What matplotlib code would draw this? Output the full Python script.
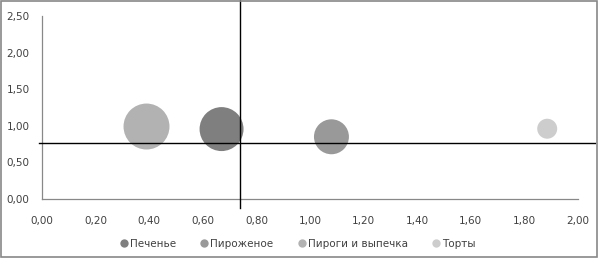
import matplotlib.pyplot as plt
from matplotlib.patches import Rectangle
from matplotlib.lines import Line2D

# данные пузырьковой диаграммы
categorias = ['Печенье', 'Пироженое', 'Пироги и выпечка', 'Торты']
x_vals = [0.67, 1.08, 0.39, 1.885]
y_vals = [0.955, 0.85, 0.99, 0.96]
tamanhos = [4.84, 3.06, 5.29, 1.00]   # размер пузыря (площадь)
cores = ['#7f7f7f', '#999999', '#b2b2b2', '#cdcdcd']

# линии-перекрестие (вручную)
linha_x = 0.74
linha_y = 0.765

x_ticks = [0.0, 0.2, 0.4, 0.6, 0.8, 1.0, 1.2, 1.4, 1.6, 1.8, 2.0]
y_ticks = [0.0, 0.5, 1.0, 1.5, 2.0, 2.5]


def fmt(v):
    return f'{v:.2f}'.replace('.', ',')


fig = plt.figure(figsize=(5.98, 2.58), dpi=100)
ax = fig.add_axes([0.0702, 0.2287, 0.8964, 0.7093])

escala = 207  # pontos^2 por unidade de tamanho
for cat, x, y, t, c in zip(categorias, x_vals, y_vals, tamanhos, cores):
    ax.scatter(x, y, s=t * escala, color=c, edgecolors='none', zorder=3)

ax.set_xlim(0, 2.0)
ax.set_ylim(0, 2.5)
ax.set_xticks(x_ticks)
ax.set_yticks(y_ticks)
ax.set_xticklabels([fmt(v) for v in x_ticks])
ax.set_yticklabels([fmt(v) for v in y_ticks])
ax.tick_params(length=0, labelsize=7.5, colors='#404040')
ax.tick_params(axis='x', pad=12)
ax.tick_params(axis='y', pad=9)

for lado in ['top', 'right']:
    ax.spines[lado].set_visible(False)
for lado in ['left', 'bottom']:
    ax.spines[lado].set_color('#888888')
    ax.spines[lado].set_linewidth(0.9)

# linhas pretas que passam além da área do gráfico
ax.plot([linha_x, linha_x], [-0.12, 2.75], color='black', lw=1.0, clip_on=False, zorder=4)
ax.plot([-0.01, 2.065], [linha_y, linha_y], color='black', lw=1.0, clip_on=False, zorder=4)

handles = [Line2D([0], [0], marker='o', linestyle='none', markersize=6,
                  markerfacecolor=c, markeredgecolor='none') for c in cores]
fig.legend(handles, categorias, loc='center', bbox_to_anchor=(0.497, 0.055),
           ncol=4, frameon=False, fontsize=7.5, handletextpad=0.1,
           columnspacing=2.2, handlelength=1.0, labelcolor='#404040')

# moldura cinza em volta do gráfico
fig.patches.append(Rectangle((0.001, 0.002), 0.997, 0.995, transform=fig.transFigure,
                             fill=False, edgecolor='#888888', lw=1.2))

fig.savefig('out.png', dpi=100)
